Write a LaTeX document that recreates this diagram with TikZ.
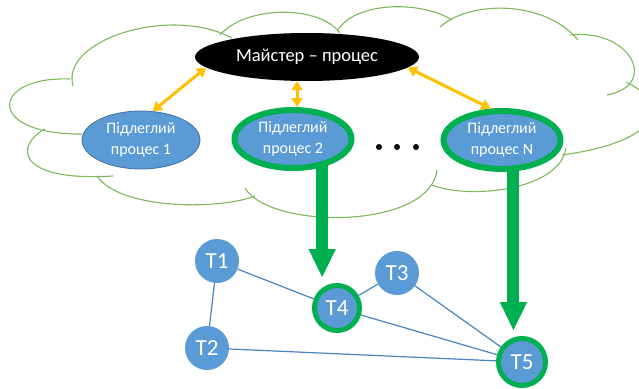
\documentclass[tikz,border=0pt]{standalone}
\usepackage{fontspec}
\setmainfont{Carlito}
\usetikzlibrary{shapes.geometric,arrows.meta,backgrounds}
\definecolor{nodeblue}{HTML}{5B9BD5}
\definecolor{nodeedge}{HTML}{41719C}
\definecolor{activegreen}{HTML}{00B050}
\definecolor{msgorange}{HTML}{FFC000}
\definecolor{cloudgreen}{HTML}{7DB85A}
\definecolor{linkblue}{HTML}{4A83C0}
\begin{document}
\begin{tikzpicture}[x=1pt,y=-1pt,
  cloudline/.style={draw=cloudgreen,line width=1.1pt},
  master/.style={ellipse,fill=black,text=white,minimum width=224pt,minimum height=48pt,
    inner sep=0pt,font=\fontsize{18.5}{21}\selectfont},
  worker/.style={ellipse,fill=nodeblue,text=white,minimum width=118pt,minimum height=58pt,
    inner sep=0pt,align=center,font=\fontsize{16}{20.5}\selectfont},
  plainworker/.style={worker,draw=nodeedge,line width=0.8pt},
  activeworker/.style={worker,draw=activegreen,line width=6pt,minimum width=117pt},
  task/.style={circle,fill=nodeblue,text=white,inner sep=0pt,minimum size=44pt,
    font=\fontsize{23}{26}\selectfont},
  activetask/.style={task,draw=activegreen,line width=5pt,minimum size=45pt},
  dot/.style={circle,fill=black,inner sep=0pt,minimum size=6pt},
  link/.style={linkblue,line width=1.2pt},
  msg/.style={msgorange,line width=3pt,
    {Triangle[width=11pt,length=9pt]}-{Triangle[width=11pt,length=9pt]}},
  assign/.style={activegreen,line width=12pt,-{Triangle[width=25pt,length=29pt]}},
]
\useasboundingbox (0,0) rectangle (639,388);

% cloud outline, one arc per lobe
\begin{scope}
  \clip (0,0) rectangle (639,388);
  \path[cloudline] (70,79) .. controls (-10,76) and (-15,135) .. (82,134);
  \path[cloudline] (73,86) .. controls (60,40) and (170,5) .. (232,38);
  \path[cloudline] (220,35) .. controls (245,6) and (318,4) .. (340,33);
  \path[cloudline] (338,30) .. controls (355,2) and (420,0) .. (452,20);
  \path[cloudline] (440,27) .. controls (470,0) and (545,0) .. (578,40);
  \path[cloudline] (570,35) .. controls (630,28) and (660,85) .. (607,95);
  \path[cloudline] (626,82) .. controls (665,100) and (670,140) .. (562,155);
  \path[cloudline] (566,148) .. controls (560,190) and (470,200) .. (432,185);
  \path[cloudline] (437,170) .. controls (430,230) and (270,230) .. (245,188);
  \path[cloudline] (97,176) .. controls (120,210) and (220,210) .. (255,196);
  \path[cloudline] (45,129) .. controls (15,145) and (15,182) .. (113,176);
\end{scope}

% processes
\node[master] (master) at (307,57) {Майстер – процес};
\node[plainworker] (sub1) at (141,140) {Підлеглий\\процес 1};
\node[activeworker] (sub2) at (293,139) {Підлеглий\\процес 2};
\node[activeworker] (subN) at (502,140) {Підлеглий\\процес N};
\node[dot] (d1) at (379,147) {};
\node[dot] (d2) at (397,147) {};
\node[dot] (d3) at (416,147) {};

% messages between master and workers
\draw[msg] (sub1.68) -- (master.186);
\draw[msg] ([xshift=4pt]sub2.north) -- ([xshift=4pt]sub2.north |- master.south);
\draw[msg] (master.-6) -- (subN.110);

% task graph
\node[task] (t1) at (217,261) {T1};
\node[task] (t2) at (207,348) {T2};
\node[task] (t3) at (397,273) {T3};
\node[activetask] (t4) at (337,308) {T4};
\node[activetask,minimum size=47pt] (t5) at (522,362) {T5};

% links sit behind the task circles
\begin{pgfonlayer}{background}
  \draw[link] (t1) -- (t2);
  \draw[link] (t1) -- (t4);
  \draw[link] (t3) -- (t4);
  \draw[link] (t3) -- (t5);
  \draw[link] (t4) -- (t5);
  \draw[link] (t2) -- (t5);
\end{pgfonlayer}

% task assignment
\draw[assign] ([yshift=5pt]sub2.-44) -- ([yshift=5pt]sub2.-44 |- t4.north);
\draw[assign] ([yshift=5pt]subN.-70) -- ([yshift=5pt]subN.-70 |- t5.north);
\end{tikzpicture}
\end{document}
